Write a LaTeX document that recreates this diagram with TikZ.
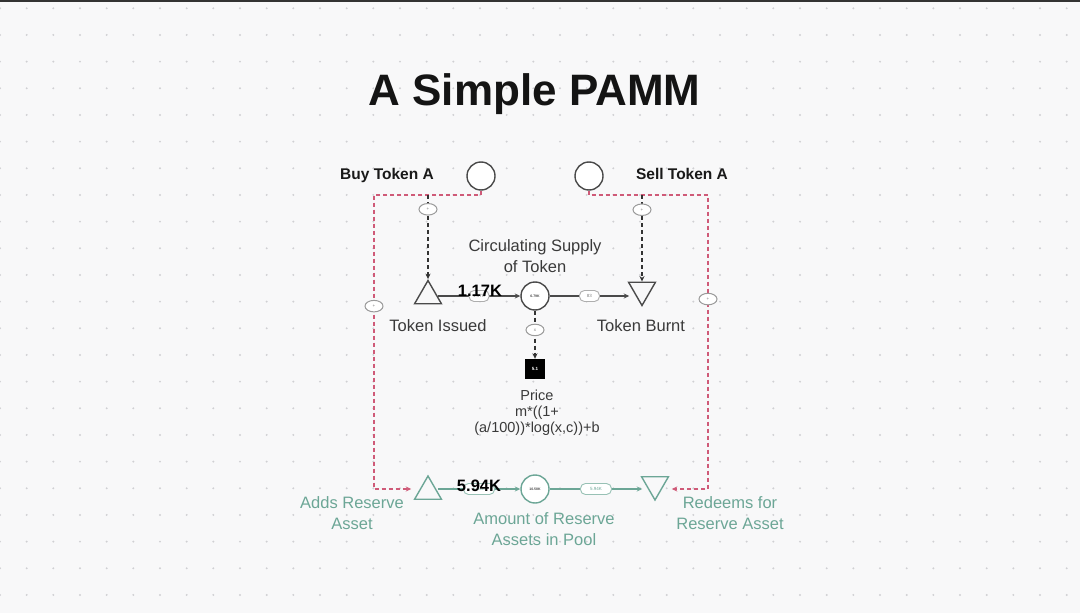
\documentclass[tikz,border=0pt]{standalone}
\usepackage{fontspec}
\setmainfont{Liberation Sans}
\usetikzlibrary{shapes.geometric,arrows.meta}
\definecolor{bg}{HTML}{F8F8F9}
\definecolor{dotc}{HTML}{D0D0D3}
\definecolor{ink}{HTML}{4A4A4A}
\definecolor{txt}{HTML}{3A3A3A}
\definecolor{tealc}{HTML}{6CA696}
\definecolor{rdash}{HTML}{CF5A78}
\definecolor{tagc}{HTML}{9A9A9A}
\begin{document}
\begin{tikzpicture}[x=1pt,y=-1pt,
  stock/.style={circle,draw=ink,line width=1.4pt,fill=white,minimum size=28pt,inner sep=0pt,text=ink,font=\fontsize{3.5}{3.5}\selectfont\bfseries},
  stockT/.style={stock,draw=tealc},
  srcup/.style={regular polygon,regular polygon sides=3,draw=ink,line width=1.4pt,fill=bg,minimum size=31pt,inner sep=0pt},
  sinkdn/.style={srcup,shape border rotate=180},
  srcupT/.style={srcup,draw=tealc},
  sinkdnT/.style={sinkdn,draw=tealc},
  pricebox/.style={rectangle,fill=black,minimum size=20pt,inner sep=0pt,text=white,font=\fontsize{4.5}{4.5}\selectfont\bfseries},
  tag/.style={ellipse,solid,draw=tagc,fill=white,line width=1pt,minimum width=18pt,minimum height=11.5pt,inner sep=0pt,text=gray,font=\fontsize{4.5}{4.5}\selectfont},
  pill/.style={rectangle,solid,rounded corners=5pt,draw=tagc!80,fill=white,line width=0.9pt,minimum width=20pt,minimum height=11pt,inner sep=0pt,text=gray,font=\fontsize{4.5}{4.5}\selectfont},
  pillT/.style={pill,draw=tealc!70,text=tealc,minimum width=31pt},
  flow/.style={draw=ink,line width=1.1pt,-{Stealth[length=5.5pt,width=5pt]}},
  flowT/.style={flow,draw=tealc},
  ctrl/.style={draw=black!80,line width=1.2pt,dash pattern=on 4pt off 3pt,-{Stealth[length=5.5pt,width=5pt]}},
  rline/.style={draw=rdash,line width=1.3pt,dash pattern=on 4pt off 3pt,-{Stealth[length=5.5pt,width=5pt]}},
  lbl/.style={text=txt,font=\fontsize{16.5}{21}\selectfont,align=center,inner sep=0pt},
  lblT/.style={lbl,text=tealc},
  bold/.style={text=black!90,font=\fontsize{15.5}{19}\selectfont\bfseries,inner sep=0pt,anchor=base},
  big/.style={text=black,font=\fontsize{16.5}{19}\selectfont\bfseries,inner sep=0pt,anchor=base}
]
\useasboundingbox (0,0) rectangle (1080,613);
\fill[bg] (0,0) rectangle (1080,613);
\foreach \i in {0,...,40}{
  \foreach \j in {0,...,22}{
    \fill[dotc] (26.667*\i, 8.3+26.667*\j) circle (1.1);
  }
}
\fill[black!80] (0,0) rectangle (1080,1.8);

% title
\node[text=black!92,font=\fontsize{44}{50}\selectfont\bfseries,anchor=base,inner sep=0pt] (title) at (534.5,105) {A Simple PAMM};

% nodes
\node[bold] (buyl) at (387,179) {Buy Token A};
\node[bold] (selll) at (682,179) {Sell Token A};
\node[stock] (buy) at (481,176) {};
\node[stock] (sell) at (589,176) {};

\node[srcup] (iss) at (428,296) {};
\node[stock] (sup) at (535,296) {6.79K};
\node[sinkdn] (burn) at (642,290) {};
\node[pricebox] (price) at (535,369) {5.1};

\node[srcupT] (adds) at (428,491.5) {};
\node[stockT] (res) at (535,489) {10.58K};
\node[sinkdnT] (redm) at (655,484.5) {};

\coordinate (tl) at (374,195);
\coordinate (bl) at (374,489);
\coordinate (tr) at (708,195);
\coordinate (br) at (708,489);

% red dashed influence lines
\draw[rline] (buy.south) -- (buy.south |- tl) -- (tl) -- node[tag,pos=0.378]{+} (bl) -- ([xshift=-7pt]adds.west |- bl);
\draw[rline] (sell.south) -- (sell.south |- tr) -- (tr) -- node[tag,pos=0.354]{+} (br) -- ([xshift=7pt]redm.east |- br);

% black dashed control lines
\draw[ctrl] (iss.north |- tl) -- node[tag,pos=0.17]{+} (iss.north);
\draw[ctrl] (burn.north |- tr) -- node[tag,pos=0.17]{+} (burn.north);
\draw[ctrl] (sup) -- node[tag,pos=0.4]{x} (price);

% flows
\draw[flow] (iss) -- node[pill]{1.17K} (sup);
\draw[flow] (sup) -- node[pill]{83} ([xshift=-3pt]burn.west |- sup);
\draw[flowT] (adds.east |- res) -- node[pillT]{5.94K} (res);
\draw[flowT] (res) -- node[pillT]{5.94K} ([xshift=-3pt]redm.west |- res);

% labels
\node[big] (v1) at (480,296) {1.17K};
\node[big] (v2) at (479,491) {5.94K};
\node[lbl] (supl) at (535,256) {Circulating Supply\\of Token};
\node[lbl,anchor=base] (issl) at (438,331) {Token Issued};
\node[lbl,anchor=base] (burnl) at (641,331) {Token Burnt};
\node[text=txt,font=\fontsize{14.5}{16}\selectfont,align=center,inner sep=0pt] (pricel) at (537,413) {Price\\m*((1+\\(a/100))*log(x,c))+b};
\node[lblT] (addsl) at (352,513.5) {Adds Reserve\\Asset};
\node[lblT] (resl) at (544,529.5) {Amount of Reserve\\Assets in Pool};
\node[lblT] (redml) at (730,513) {Redeems for\\Reserve Asset};
\end{tikzpicture}
\end{document}
